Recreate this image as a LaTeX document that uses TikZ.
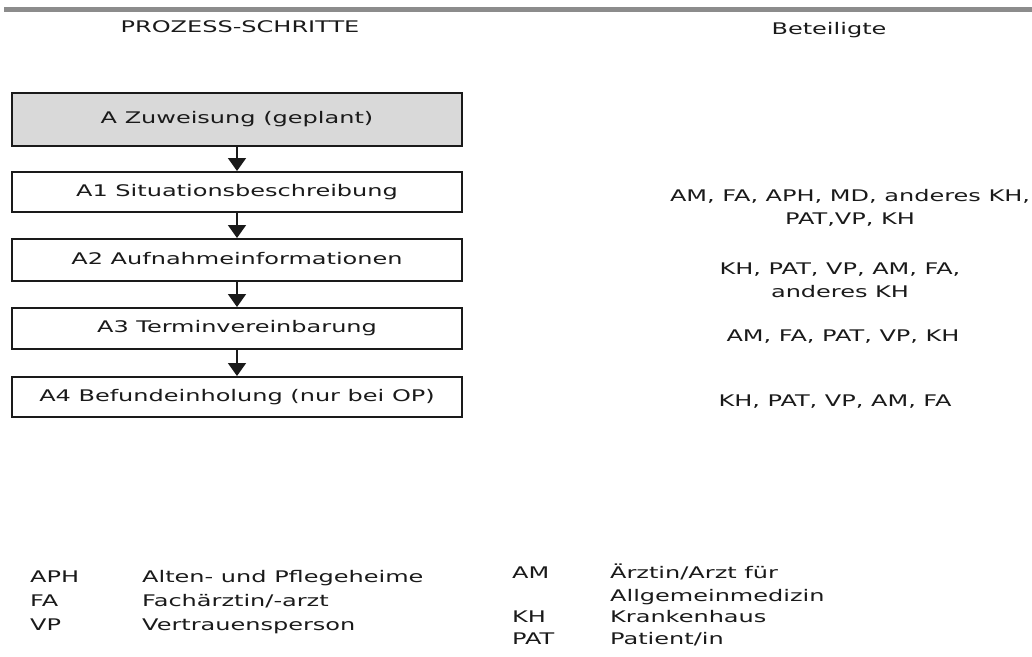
\documentclass[tikz,border=0pt]{standalone}
\usepackage{fontspec}
\setmainfont{DejaVu Sans}[FakeStretch=1.5]
\usetikzlibrary{arrows.meta}
\definecolor{ink}{HTML}{1A1A1A}
\definecolor{boxgray}{HTML}{D9D9D9}
\definecolor{bargray}{HTML}{8C8C8C}
\begin{document}
\begin{tikzpicture}[x=1pt,y=-1pt,
  every node/.style={font=\fontsize{16}{23}\selectfont, text=ink, inner sep=0pt},
  stepbox/.style={draw=ink, line width=2pt, minimum width=450pt, text height=12pt, text depth=3.5pt},
  flow/.style={draw=ink, line width=1.8pt, -{Triangle[width=18pt,length=13pt]}},
  lbl/.style={anchor=mid west},
  part/.style={align=center, anchor=center}]
\useasboundingbox (0,0) rectangle (1032,656);
\fill[bargray] (4,7) rectangle (1032,12);
\node[anchor=mid] (h1) at (240,30) {PROZESS-SCHRITTE};
\node[anchor=mid] (h2) at (829,32) {Beteiligte};
% process steps
\node[stepbox, fill=boxgray, minimum height=53pt] (a) at (237,119.5) {A Zuweisung (geplant)};
\node[stepbox, minimum height=40pt] (a1) at (237,192) {A1 Situationsbeschreibung};
\node[stepbox, minimum height=42pt] (a2) at (237,260) {A2 Aufnahmeinformationen};
\node[stepbox, minimum height=41pt] (a3) at (237,328.5) {A3 Terminvereinbarung};
\node[stepbox, minimum height=40pt] (a4) at (237,397) {A4 Befundeinholung (nur bei OP)};
\draw[flow] (a) -- (a1);
\draw[flow] (a1) -- (a2);
\draw[flow] (a2) -- (a3);
\draw[flow] (a3) -- (a4);
% participants
\node[part] (p1) at (850,208) {AM, FA, APH, MD, anderes KH,\\PAT,VP, KH};
\node[part] (p2) at (840,280) {KH, PAT, VP, AM, FA,\\anderes KH};
\node[part] (p3) at (843,337) {AM, FA, PAT, VP, KH};
\node[part] (p4) at (835,402) {KH, PAT, VP, AM, FA};
% legend left
\node[lbl] (k1) at (30,580) {APH};
\node[lbl] (d1) at (142,580) {Alten- und Pflegeheime};
\node[lbl] (k2) at (30,604) {FA};
\node[lbl] (d2) at (142,604) {Fachärztin/-arzt};
\node[lbl] (k3) at (30,628) {VP};
\node[lbl] (d3) at (142,628) {Vertrauensperson};
% legend right
\node[lbl] (k4) at (512,576) {AM};
\node[lbl] (d4) at (610,576) {Ärztin/Arzt für};
\node[lbl] (d4b) at (610,599) {Allgemeinmedizin};
\node[lbl] (k5) at (512,620) {KH};
\node[lbl] (d5) at (610,620) {Krankenhaus};
\node[lbl] (k6) at (512,642) {PAT};
\node[lbl] (d6) at (610,642) {Patient/in};
\end{tikzpicture}
\end{document}
